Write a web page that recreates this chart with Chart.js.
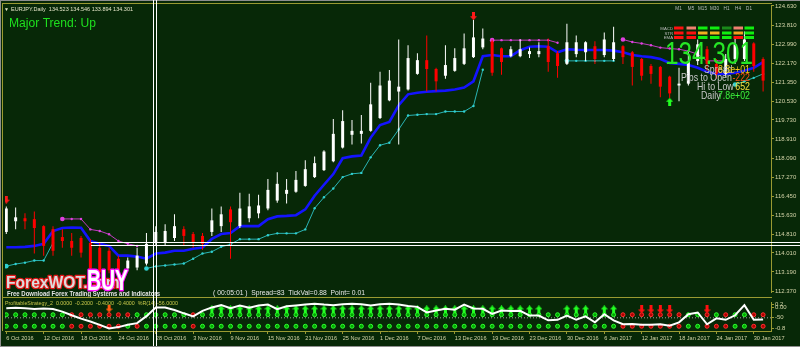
<!DOCTYPE html>
<html><head><meta charset="utf-8">
<script src="https://cdn.jsdelivr.net/npm/chart.js@4.4.1/dist/chart.umd.min.js"></script>
<style>
html,body{margin:0;padding:0;background:#072807;overflow:hidden}
#wrap{position:relative;width:800px;height:347px;background:#072807}
#c1{position:absolute;left:0;top:0}
#c2{position:absolute;left:0;top:297px}
</style></head><body>
<div id="wrap"><canvas id="c1" width="800" height="297"></canvas><canvas id="c2" width="800" height="50"></canvas></div>
<script>
// ---------------- DATA ----------------
const dates = ['6 Oct 2016','7 Oct 2016','10 Oct 2016','11 Oct 2016','12 Oct 2016','13 Oct 2016','14 Oct 2016','17 Oct 2016','18 Oct 2016','19 Oct 2016','20 Oct 2016','21 Oct 2016','24 Oct 2016','25 Oct 2016','26 Oct 2016','27 Oct 2016','28 Oct 2016','31 Oct 2016',
'1 Nov 2016','2 Nov 2016','3 Nov 2016','4 Nov 2016','7 Nov 2016','8 Nov 2016','9 Nov 2016','10 Nov 2016','11 Nov 2016','14 Nov 2016','15 Nov 2016','16 Nov 2016','17 Nov 2016','18 Nov 2016','21 Nov 2016','22 Nov 2016','23 Nov 2016','24 Nov 2016','25 Nov 2016','28 Nov 2016','29 Nov 2016','30 Nov 2016',
'1 Dec 2016','2 Dec 2016','5 Dec 2016','6 Dec 2016','7 Dec 2016','8 Dec 2016','9 Dec 2016','12 Dec 2016','13 Dec 2016','14 Dec 2016','15 Dec 2016','16 Dec 2016','19 Dec 2016','20 Dec 2016','21 Dec 2016','22 Dec 2016','23 Dec 2016','27 Dec 2016','28 Dec 2016','29 Dec 2016','30 Dec 2016',
'3 Jan 2017','4 Jan 2017','5 Jan 2017','6 Jan 2017','9 Jan 2017','10 Jan 2017','11 Jan 2017','12 Jan 2017','13 Jan 2017','16 Jan 2017','17 Jan 2017','18 Jan 2017','19 Jan 2017','20 Jan 2017','23 Jan 2017','24 Jan 2017','25 Jan 2017','26 Jan 2017','27 Jan 2017','30 Jan 2017','31 Jan 2017'];
const dateTickIdx = [0,4,8,12,16,20,24,28,32,36,40,44,48,52,56,60,64,68,72,76,80];

const openP = [114.91,115.37,115.50,115.46,115.16,115.03,114.69,114.52,114.65,114.44,
114.23,114.10,113.76,113.34,113.38,113.55,114.48,114.44,114.65,115.03,
114.82,114.74,114.91,115.16,115.88,115.16,115.50,115.71,115.92,116.26,
116.55,116.64,116.89,117.27,117.57,117.95,118.54,119.09,119.13,119.26,
119.81,120.57,120.95,121.04,121.71,122.30,121.92,121.63,121.84,122.14,
122.43,122.85,123.11,122.81,122.47,122.47,122.56,122.56,122.90,122.60,
122.14,122.56,122.64,122.90,122.52,122.35,122.90,122.64,122.35,122.05,
122.01,121.59,121.21,121.29,122.26,122.77,122.14,121.71,122.35,122.35,
123.02,122.35];
const highP = [116.01,115.96,115.71,115.79,115.20,115.16,115.03,114.86,114.74,114.61,
114.44,114.23,113.89,113.81,114.23,114.86,115.16,115.24,115.67,115.16,
114.91,114.86,115.92,116.01,116.01,116.60,116.55,116.51,117.19,117.48,
117.19,117.53,117.99,118.16,118.42,119.77,120.15,119.73,119.94,121.33,
121.80,121.88,123.19,122.94,122.60,123.36,121.97,122.94,122.81,123.45,
124.04,123.66,123.19,122.85,122.90,123.19,122.85,123.07,123.23,122.69,
123.87,123.36,123.11,123.11,123.49,123.74,122.94,122.69,122.39,122.14,
122.05,121.63,121.97,122.64,123.19,122.90,122.35,122.56,123.28,123.53,
123.07,122.43];
const lowP = [114.82,115.03,115.03,113.98,113.89,113.89,114.23,113.89,113.81,113.13,
112.96,113.13,113.13,113.21,113.26,113.47,114.31,114.31,114.52,114.31,
114.23,114.14,114.74,114.91,113.76,115.08,115.33,115.50,115.84,116.17,
116.13,116.60,116.85,117.23,117.53,117.91,118.50,118.67,118.71,119.22,
119.77,120.53,118.67,120.99,121.67,120.95,120.95,121.50,121.80,122.09,
122.39,122.77,121.63,121.67,122.43,122.43,122.39,122.43,121.80,121.54,
122.09,122.43,122.26,122.14,122.43,122.26,122.14,121.21,121.42,121.29,
120.70,120.66,120.53,121.21,122.09,121.84,121.50,121.59,122.14,122.26,
121.80,120.95];
const closeP = [115.92,115.54,115.37,115.08,114.31,114.10,114.52,114.23,114.02,113.34,
113.17,113.26,113.26,113.68,113.89,114.40,114.91,114.95,115.16,114.74,
114.48,114.40,115.41,115.67,115.33,115.92,116.01,116.05,116.72,116.98,
116.72,117.15,117.61,117.87,118.37,119.13,119.68,119.26,119.26,120.40,
121.21,121.42,121.16,122.39,122.30,121.92,121.39,122.09,122.39,122.81,
123.28,123.23,121.76,122.22,122.77,122.77,122.69,122.69,122.22,122.05,
123.07,123.07,123.07,122.35,123.19,123.07,122.43,122.01,121.63,121.71,
121.16,120.87,121.29,122.26,122.98,122.14,121.71,122.35,122.98,123.19,
122.05,121.42];

// blue trend line
const trendLine = [114.25,114.25,114.27,114.31,114.40,114.95,115.08,115.10,115.09,114.52,
114.40,114.31,113.89,113.89,113.85,113.76,113.98,114.02,114.10,114.10,
114.19,114.24,114.61,114.82,114.86,115.16,115.16,115.16,115.46,115.58,
115.60,115.63,115.88,116.47,116.94,117.40,118.08,118.16,118.20,118.97,
119.51,119.64,120.36,120.83,120.90,120.94,120.97,120.99,121.04,121.12,
121.39,122.47,122.52,122.47,122.47,122.73,122.88,122.90,122.88,122.64,
122.77,122.75,122.74,122.74,122.74,122.71,122.64,122.52,122.47,122.43,
122.35,122.18,122.14,122.09,121.97,121.80,121.71,121.71,121.76,121.84,
121.97,122.22];
// cyan lower stop line
const lowerBand = [113.44,113.53,113.59,113.68,113.68,114.44,null,null,null,null,
null,null,null,null,null,113.34,113.43,113.47,113.51,113.55,
113.76,113.98,114.06,114.27,114.38,114.60,114.60,114.60,114.77,114.85,
114.85,114.85,115.02,115.93,116.40,116.78,117.27,117.41,117.45,118.12,
118.64,118.75,119.32,119.92,119.95,119.98,119.98,120.09,120.09,120.09,
120.33,121.89,null,null,null,null,null,null,null,null,
122.27,122.27,122.27,122.27,122.27,122.27,null,null,null,null,
null,null,null,null,null,null,null,null,121.25,121.39,
121.54,121.71];
// magenta upper stop line
const upperBand = [null,null,null,null,null,null,115.47,115.47,115.47,115.02,
114.95,114.81,114.52,114.40,114.31,null,null,null,null,null,
null,null,null,null,null,null,null,null,null,null,
null,null,null,null,null,null,null,null,null,null,
null,null,null,null,null,null,null,null,null,null,
null,null,123.16,123.16,123.16,123.16,123.16,123.16,123.16,123.05,
null,null,null,null,null,null,123.19,123.08,123.02,122.94,
122.84,122.80,122.77,122.69,122.56,122.27,122.27,122.27,null,null,
null,null];
const sellBars = [0, 50], sellPrices = [116.30, 124.19];
const buyBars = [71], buyPrices = [120.51];
const priceTicks = [124.63,123.81,122.99,122.17,121.35,120.53,119.73,118.91,118.09,117.27,116.45,115.63,114.81,114.01,113.19,112.37];
const hLinePrice = 114.40;

// lower window: %R style oscillator
const wpr = [-16,-14,-16,-19,-17,-19,-28,-41,-53,-63,
-75,-88,-83,-75,-69,-44,-13,-13,-22,-34,
-45,-25,-13,-5,-16,-6,-14,-6,-3,-19,
-9,-6,-3,0,-3,-5,-2,0,-2,-6,
-2,0,-3,-8,-11,-31,-24,-18,-21,-3,
-17,-18,-36,-24,-26,-25,-42,-42,-59,-57,
-42,-57,-45,-66,-37,-59,-73,-72,-75,-75,
-73,-78,-66,-37,-31,-73,-52,-57,-41,-5,
-57,-56];
const upSignalBars = [22,23,24,25,26,27,28,29,30,31,32,33,34,35,36,37,38,39,40,41,42,43,44,45,46,47,48,49,50,51,52,53,54,55,56,57,60,61,62,64,65];
const downSignalBars = [68,69,70,71,75];
const warnSignalBars = [11];
const row1RedBars = [7,8,9,10,11,12,13,20,66,67,68,69,70,71,72,75,77,80,81];
const row2RedBars = [7,8,9,10,11,12,14,20,66,67,68,69,70,71,72,75,76,77,80,81];
const indLevels = {arrows:-20, row1:-39, mid:-50, row2:-80};
const indTickVals = [-2,-12.5,-50,-87.5];
const indTickLabels = ['0.2','0.00','-50','-0.8'];

// ---------------- STYLE ----------------
const BG = '#072807', OLIVE = '#9a9a32', AXT = '#d4d4a8';
const FONT = "'Liberation Sans', Arial, sans-serif";
const X_MIN = -0.1386, X_MAX = 81.845;
const idx = dates.map((d,i)=>i);

function makeArrow(color, up, w, h){
  const c=document.createElement('canvas'); c.width=w; c.height=h;
  const g=c.getContext('2d'); g.fillStyle=color; g.beginPath();
  const hh=Math.round(h*0.5), s1=Math.floor(w/2)-1, s2=Math.ceil(w/2)+1;
  if(up){ g.moveTo(w/2,0); g.lineTo(w,hh); g.lineTo(s2,hh); g.lineTo(s2,h); g.lineTo(s1,h); g.lineTo(s1,hh); g.lineTo(0,hh); }
  else { g.moveTo(w/2,h); g.lineTo(w,h-hh); g.lineTo(s2,h-hh); g.lineTo(s2,0); g.lineTo(s1,0); g.lineTo(s1,h-hh); g.lineTo(0,h-hh); }
  g.closePath(); g.fill(); return c;
}
const redDown = makeArrow('#ff1a1a', false, 7, 8);
const greenUp = makeArrow('#22ff22', true, 7, 8);
const indUp = makeArrow('#22ff22', true, 7, 8);
const indDown = makeArrow('#ff1010', false, 7, 8);
const indWarn = makeArrow('#ff5a10', false, 7, 8);

function drawFit(ctx, s, x, y, size, color, o){
  o=o||{}; ctx.save();
  ctx.font=(o.bold?'bold ':'')+size+'px '+FONT;
  ctx.textBaseline='alphabetic'; ctx.textAlign=o.align||'left';
  let sx=o.sx||1;
  if(o.w){ sx=o.w/ctx.measureText(o.fitText||s).width; }
  ctx.translate(x,y); ctx.scale(sx,1);
  if(o.stroke){ ctx.lineJoin='round'; ctx.lineWidth=o.lw||2; ctx.strokeStyle=o.stroke; ctx.strokeText(s,0,0); }
  ctx.fillStyle=color; ctx.fillText(s,0,0); ctx.restore();
}

const candleColor = c => closeP[c.dataIndex] >= openP[c.dataIndex] ? '#ffffff' : '#ff0000';
const segStartRadius = arr => c => { const i=c.dataIndex; return (arr[i]!=null && (i===0 || arr[i-1]==null)) ? 2.3 : 1.2; };

const bgPlugin = { id:'bg', beforeDraw(chart){ const c=chart.ctx; c.save(); c.fillStyle=BG; c.fillRect(0,0,chart.width,chart.height); c.restore(); } };

const frame1 = { id:'frame1', beforeDatasetsDraw(chart){
  const c=chart.ctx; c.save();
  c.fillStyle='#8e8e8e'; c.fillRect(0,0,800,1); c.fillRect(0,0,1,297);
  c.fillStyle=OLIVE; c.fillRect(2,3,770,1); c.fillRect(2,3,1,294);
  c.restore();
}, afterDraw(chart){
  const c=chart.ctx, xs=chart.scales.x, ys=chart.scales.y;
  c.save();
  drawFit(c,'\u25BC',4,11,5,'#e6e6c8');
  drawFit(c,'EURJPY.Daily  134.523 134.546 133.894 134.301',11,11,5.5,'#e6e6c8',{w:122});
  drawFit(c,'Major Trend: Up',9,27,12,'#1ee01e',{w:87});
  const cols=['M1','M5','M15','M30','H1','H4','D1'];
  const cx=[678.5,691,702.5,714.5,726.5,738,749];
  const rows=['MACD','STR','EMA'], ry=[26.5,31.5,36];
  const cells=[['#ff1010','#f08070','#10ee10','#10ee10','#1a8a1a','#f08070','#10ee10'],
               ['#ff1010','#ff1010','#f0b020','#f0b020','#10ee10','#f0a020','#10ee10'],
               ['#ff1010','#ff1010','#10ee10','#10ee10','#10ee10','#ff1010','#10ee10']];
  cols.forEach((t,k)=>drawFit(c,t,cx[k],9.5,4.6,'#bdbdbd',{align:'center'}));
  rows.forEach((t,r)=>{ drawFit(c,t,673,ry[r]+3,4.3,'#bdbdbd',{align:'right'});
    cols.forEach((_,k)=>{ c.fillStyle=cells[r][k]; c.fillRect(cx[k]-4.5,ry[r],9.5,3); }); });
  drawFit(c,'134.301',665,63.5,31,'#26e626',{w:88});
  const lab=[['Spread',704,72.5],['Pips to Open',681,81.3],['Hi to Low',697,90],['Daily',701,98.6]];
  lab.forEach(l=>drawFit(c,l[0],l[1],l[2],11,'#c8c8c8',{sx:0.8}));
  const val=[['8.3e+01','#f2c81e',72.5],['-222','#ff4e1a',81.3],['652','#f4e040',90],['7.8e+02','#3cf03c',98.6]];
  val.forEach(v=>drawFit(c,v[0],750,v[2],11,v[1],{sx:0.8,align:'right'}));
  drawFit(c,'ForexWOT.com',6,288,16,'#dcdcdc',{bold:true,w:79,fitText:'ForexWOT',stroke:'#e01818',lw:2.5});
  drawFit(c,'BUY',87,289.5,30,'#ffffff',{bold:true,w:41,stroke:'#ff10ff',lw:3});
  drawFit(c,'Free Download Forex Trading Systems and Indicators',7,295.5,6.5,'#e4e4e4',{bold:true,w:153});
  drawFit(c,'( 00:05:01 )  Spread=83  TickVal=0.88  Point= 0.01',213,295,6.5,'#e8e8e8',{w:152});
  const vx=xs.getPixelForValue(15.9), hy=ys.getPixelForValue(hLinePrice), hx=xs.getPixelForValue(9.03);
  c.fillStyle='#ffffff';
  c.fillRect(Math.round(vx)-2,0,1,297); c.fillRect(Math.round(vx)+1,0,1,297);
  c.fillRect(Math.round(hx),Math.round(hy)-2,800,1); c.fillRect(Math.round(hx),Math.round(hy)+1,800,1);
  c.restore();
}};

const frame2 = { id:'frame2', beforeDatasetsDraw(chart){
  const c=chart.ctx; c.save();
  c.fillStyle='#8e8e8e'; c.fillRect(0,0,1,50); c.fillRect(0,49,800,1);
  c.fillStyle=OLIVE; c.fillRect(2,0,770,1); c.fillRect(2,0,1,34);
  drawFit(c,'ProfitableStrategy_2  0.0000  -0.2000  -0.4000  -0.4000  %R(14) -56.0000',5,8,6,'#c8c84a',{w:173});
  c.restore();
}, afterDraw(chart){
  const c=chart.ctx, xs=chart.scales.x; c.save();
  const vx=xs.getPixelForValue(15.9);
  c.fillStyle='#ffffff'; c.fillRect(Math.round(vx)-2,0,1,49); c.fillRect(Math.round(vx)+1,0,1,49);
  c.restore();
}};

const common = { responsive:false, animation:false, devicePixelRatio:1, events:[],
  plugins:{legend:{display:false}, tooltip:{enabled:false}} };

function xAxis(display){
  return { type:'linear', min:X_MIN, max:X_MAX, offset:false, bounds:'data', display,
    position:'bottom',
    afterFit(s){ if(display){ s.height=16; } else { s.height=0; } s.paddingLeft=0; s.paddingRight=0; },
    afterBuildTicks(s){ s.ticks = dateTickIdx.map(v=>({value:v})); },
    ticks:{ autoSkip:false, maxRotation:0, align:'start', padding:1, color:AXT,
      font:{size:5.6, family:FONT}, callback:v=>dates[v] },
    grid:{ drawOnChartArea:false, tickLength:3, tickColor:OLIVE, color:OLIVE },
    border:{ color:OLIVE, width:1 } };
}

// ---------------- MAIN CHART ----------------
new Chart(document.getElementById('c1'), {
  type:'bar',
  data:{ datasets:[
    { type:'scatter', data: sellBars.map((b,k)=>({x:b,y:sellPrices[k]})), pointStyle:redDown, pointRadius:4, order:0 },
    { type:'scatter', data: buyBars.map((b,k)=>({x:b,y:buyPrices[k]})), pointStyle:greenUp, pointRadius:4, order:0 },
    { type:'bar', data: idx.map(i=>({x:i,y:[Math.min(openP[i],closeP[i]),Math.max(openP[i],closeP[i])]})),
      backgroundColor:candleColor, barThickness:3, maxBarThickness:3, grouped:false, minBarLength:1, borderWidth:0, inflateAmount:0, order:1 },
    { type:'bar', data: idx.map(i=>({x:i,y:[lowP[i],highP[i]]})),
      backgroundColor:candleColor, barThickness:1, maxBarThickness:1, grouped:false, borderWidth:0, inflateAmount:0, order:2 },
    { type:'line', data: idx.map(i=>({x:i,y:upperBand[i]})), borderColor:'#c03cc0', borderWidth:1, spanGaps:false,
      pointRadius:segStartRadius(upperBand), pointBackgroundColor:'#e040e0', pointBorderWidth:0, order:3 },
    { type:'line', data: idx.map(i=>({x:i,y:lowerBand[i]})), borderColor:'#2ab4b4', borderWidth:1, spanGaps:false,
      pointRadius:segStartRadius(lowerBand), pointBackgroundColor:'#30d0d0', pointBorderWidth:0, order:3 },
    { type:'line', data: idx.map(i=>({x:i,y:trendLine[i]})), borderColor:'#1414ff', borderWidth:2.6, pointRadius:0, order:4 }
  ]},
  options:Object.assign({}, common, {
    layout:{ padding:{left:2, top:5, right:0, bottom:0} },
    scales:{
      x: xAxis(false),
      y: { type:'linear', position:'right', min:112.327, max:124.673, bounds:'data',
        afterFit(s){ s.width=29; s.paddingTop=0; s.paddingBottom=0; },
        afterBuildTicks(s){ s.ticks = priceTicks.map(v=>({value:v})); },
        ticks:{ autoSkip:false, padding:1, color:AXT, font:{size:6, family:FONT}, callback:v=>v.toFixed(3) },
        grid:{ drawOnChartArea:false, tickLength:3, tickColor:OLIVE, color:OLIVE },
        border:{ color:OLIVE, width:1 } }
    }
  }),
  plugins:[bgPlugin, frame1]
});

// ---------------- INDICATOR WINDOW ----------------
const dotColor = reds => c => reds.includes(c.dataIndex) ? '#b00000' : '#00a800';
const dotBorder = reds => c => reds.includes(c.dataIndex) ? '#ff3030' : '#30ff30';
new Chart(document.getElementById('c2'), {
  type:'line',
  data:{ datasets:[
    { data: idx.map(i=>({x:i,y:wpr[i]})), borderColor:'#ffffff', borderWidth:2, pointRadius:0, order:0 },
    { type:'scatter', data: upSignalBars.map(b=>({x:b,y:indLevels.arrows})), pointStyle:indUp, pointRadius:4, order:1 },
    { type:'scatter', data: downSignalBars.map(b=>({x:b,y:indLevels.arrows})), pointStyle:indDown, pointRadius:4, order:1 },
    { type:'scatter', data: warnSignalBars.map(b=>({x:b,y:indLevels.arrows+3})), pointStyle:indWarn, pointRadius:4, order:1 },
    { type:'scatter', data: idx.map(i=>({x:i,y:indLevels.row1})), pointStyle:'circle', pointRadius:2,
      pointBackgroundColor:dotColor(row1RedBars), pointBorderColor:dotBorder(row1RedBars), pointBorderWidth:1, order:2 },
    { type:'scatter', data: idx.map(i=>({x:i,y:indLevels.row2})), pointStyle:'circle', pointRadius:2,
      pointBackgroundColor:dotColor(row2RedBars), pointBorderColor:dotBorder(row2RedBars), pointBorderWidth:1, order:2 },
    { data:[{x:X_MIN,y:indLevels.mid},{x:X_MAX,y:indLevels.mid}], borderColor:'#a0a0a0', borderWidth:1, borderDash:[1,2], pointRadius:0, order:3 }
  ]},
  options:Object.assign({}, common, {
    layout:{ padding:{left:2, top:1, right:0, bottom:0} },
    scales:{
      x: xAxis(true),
      y: { type:'linear', position:'right', min:-96.875, max:6.25, bounds:'data',
        afterFit(s){ s.width=29; s.paddingTop=0; s.paddingBottom=0; },
        afterBuildTicks(s){ s.ticks = indTickVals.map(v=>({value:v})); },
        ticks:{ autoSkip:false, padding:1, color:AXT, font:{size:6, family:FONT},
          callback:(v)=>indTickLabels[indTickVals.indexOf(v)] },
        grid:{ drawOnChartArea:false, tickLength:3, tickColor:OLIVE, color:OLIVE },
        border:{ color:OLIVE, width:1 } }
    }
  }),
  plugins:[bgPlugin, frame2]
});
</script>
</body></html>
